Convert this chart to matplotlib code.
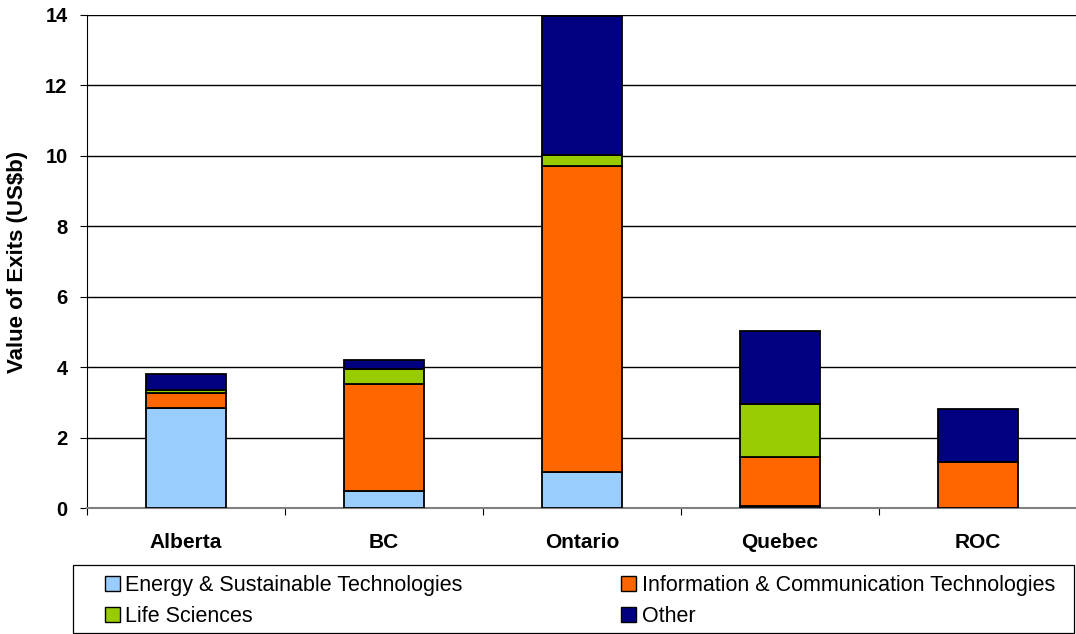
import numpy as np
import matplotlib.pyplot as plt
from matplotlib.patches import Patch, Rectangle

plt.rcParams['font.family'] = ['Liberation Sans', 'DejaVu Sans']

# data (US$b)
regions = ["Alberta", "BC", "Ontario", "Quebec", "ROC"]
energy = [2.85, 0.48, 1.02, 0.05, 0.0]
ict = [0.41, 3.04, 8.69, 1.41, 1.30]
life_sci = [0.10, 0.43, 0.32, 1.49, 0.0]
other = [0.44, 0.25, 3.94, 2.08, 1.50]

series_names = ["Energy & Sustainable Technologies",
                "Information & Communication Technologies",
                "Life Sciences", "Other"]
colors = ["#99CCFF", "#FF6600", "#99CC00", "#000080"]

W, H = 1076, 634
fig = plt.figure(figsize=(W / 100, H / 100), dpi=100)
ax = fig.add_axes([87 / W, 1 - 508 / H, 990 / W, 493 / H])

x = np.arange(len(regions))
bottom = np.zeros(len(regions))
for vals, col in zip([energy, ict, life_sci, other], colors):
    vals = np.array(vals)
    ax.bar(x, vals, width=0.40, bottom=bottom, color=col,
           edgecolor="black", linewidth=1.3, zorder=3)
    bottom += vals

ax.set_xlim(-0.5, len(regions) - 0.5)
ax.set_ylim(0, 14)
ax.set_yticks(np.arange(0, 15, 2))
ax.yaxis.grid(True, color="black", linewidth=1.0, zorder=0)
ax.set_axisbelow(True)

# category labels centred, tick marks on the boundaries
ax.set_xticks(np.arange(-0.5, len(regions), 1.0))
ax.set_xticklabels([])
ax.set_xticks(x, minor=True)
ax.set_xticklabels(regions, minor=True, fontsize=15, fontweight="bold")
ax.tick_params(axis="x", which="minor", length=0, pad=18)
ax.tick_params(axis="x", which="major", length=5, color="black")
ax.tick_params(axis="y", length=5, labelsize=14.5, pad=9)
for lbl in ax.get_yticklabels():
    lbl.set_fontweight("bold")

for side in ["top", "right"]:
    ax.spines[side].set_visible(False)
ax.spines["left"].set_color("black")
ax.spines["bottom"].set_color("#808080")
ax.spines["bottom"].set_linewidth(1.5)

fig.text(18 / W, 1 - 262 / H, "Value of Exits (US$b)", rotation=90,
         ha="center", va="center", fontsize=16, fontweight="bold")

# legend box
fig.patches.append(Rectangle((73 / W, 1 / H), (1074 - 73) / W, (633 - 565) / H,
                             transform=fig.transFigure, fill=False,
                             edgecolor="black", linewidth=0.9))

handles = [Patch(facecolor=c, edgecolor="black", linewidth=1.0) for c in colors]
order = [0, 2, 1, 3]
fig.legend([handles[i] for i in order], [series_names[i] for i in order],
           loc="center", bbox_to_anchor=(105 / W, 1 - 631 / H, (1055 - 105) / W, 60 / H),
           mode="expand", ncol=2, fontsize=15.5, frameon=False,
           handlelength=0.7, handleheight=0.7, handletextpad=0.25,
           borderaxespad=0.0, labelspacing=0.45, borderpad=0.0)

fig.savefig("out.png", dpi=100)
